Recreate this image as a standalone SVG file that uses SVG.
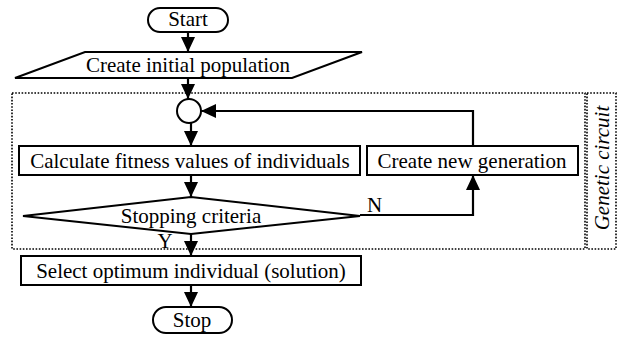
<svg xmlns="http://www.w3.org/2000/svg" width="621" height="337" viewBox="0 0 621 337">
<defs>
<marker id="ah" markerUnits="userSpaceOnUse" markerWidth="16" markerHeight="16" viewBox="0 0 16 16" refX="15" refY="8" orient="auto">
<path d="M0,1 L15,8 L0,15 Z" fill="#000"/>
</marker>
</defs>
<style>
.s{fill:#fff;stroke:#000;stroke-width:2}
text{font-family:'Liberation Serif','Times New Roman',serif;font-size:21px;fill:#000;text-anchor:middle}
.c{fill:none;stroke:#000;stroke-width:2.2}
.d{fill:none;stroke:#000;stroke-width:1.6;stroke-dasharray:1.6 1.6}
</style>
<g id="genetic-circuit">
<rect class="d" x="12" y="93" width="573" height="156"/>
<rect class="d" x="587" y="93" width="29" height="156"/>
<text font-family="Liberation Serif" font-style="italic" transform="translate(609,168) rotate(-90)">Genetic circuit</text>
</g>
<g id="connectors">
<line class="c" x1="188" y1="32" x2="188" y2="52" marker-end="url(#ah)"/>
<line class="c" x1="188" y1="78" x2="188" y2="99" marker-end="url(#ah)"/>
<line class="c" x1="191" y1="123" x2="191" y2="146" marker-end="url(#ah)"/>
<polyline class="c" points="473,146 473,111 201,111" marker-end="url(#ah)"/>
<line class="c" x1="191" y1="175" x2="191" y2="197" marker-end="url(#ah)"/>
<polyline class="c" points="360,215 473,215 473,175" marker-end="url(#ah)"/>
<line class="c" x1="191" y1="234" x2="191" y2="256" marker-end="url(#ah)"/>
<line class="c" x1="191" y1="285" x2="191" y2="307" marker-end="url(#ah)"/>
<text font-family="Liberation Serif" x="367" y="212" text-anchor="start" style="text-anchor:start">N</text>
<text font-family="Liberation Serif" x="165" y="248">Y</text>
</g>
<g id="start">
<rect class="s" x="148" y="8" width="80" height="24" rx="12"/>
<text font-family="Liberation Serif" x="188" y="26">Start</text>
</g>
<g id="init">
<polygon class="s" points="85,52 362,52 292,78 15,78"/>
<text font-family="Liberation Serif" x="188" y="72">Create initial population</text>
</g>
<g id="junction">
<circle class="s" cx="189" cy="111" r="12"/>
</g>
<g id="fitness">
<rect class="s" x="19" y="146" width="341" height="29"/>
<text font-family="Liberation Serif" x="190" y="168">Calculate fitness values of individuals</text>
</g>
<g id="newgen">
<rect class="s" x="367" y="146" width="211" height="29"/>
<text font-family="Liberation Serif" x="472" y="168">Create new generation</text>
</g>
<g id="criteria">
<polygon class="s" points="23,216 191,197 360,216 191,234"/>
<text font-family="Liberation Serif" x="191" y="223">Stopping criteria</text>
</g>
<g id="select">
<rect class="s" x="21" y="256" width="340" height="29"/>
<text font-family="Liberation Serif" x="191" y="278">Select optimum individual (solution)</text>
</g>
<g id="stop">
<rect class="s" x="153" y="307" width="79" height="26" rx="13"/>
<text font-family="Liberation Serif" x="192" y="327">Stop</text>
</g>
</svg>
